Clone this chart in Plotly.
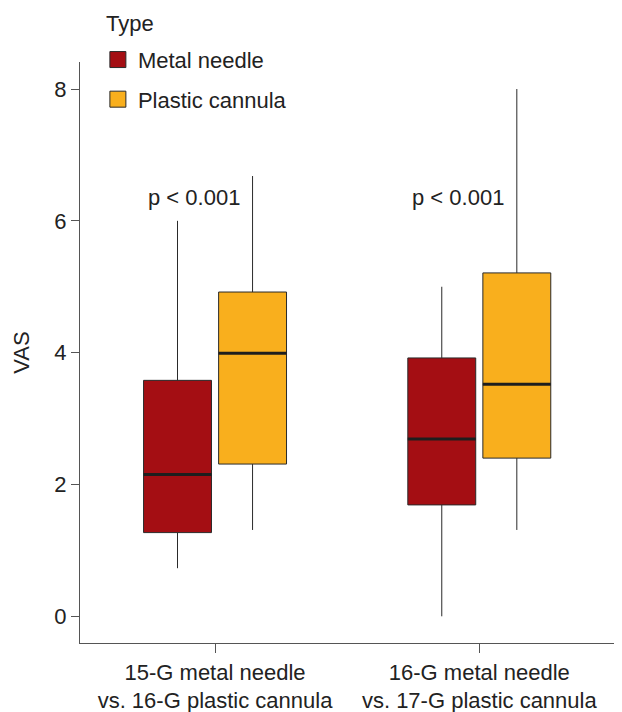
import plotly.graph_objects as go

# ---- data ----
groups = ["15-G metal needle<br>vs. 16-G plastic cannula",
          "16-G metal needle<br>vs. 17-G plastic cannula"]
types = ["Metal needle", "Plastic cannula"]

metal_low = [0.73, 0.0]
metal_q1 = [1.27, 1.69]
metal_med = [2.15, 2.69]
metal_q3 = [3.58, 3.92]
metal_high = [6.0, 5.0]

plastic_low = [1.31, 1.31]
plastic_q1 = [2.31, 2.40]
plastic_med = [3.99, 3.52]
plastic_q3 = [4.92, 5.21]
plastic_high = [6.68, 8.0]

p_labels = ["p < 0.001", "p < 0.001"]
y_ticks = [0, 2, 4, 6, 8]
legend_title = "Type"

# ---- styling / layout constants ----
FONT = "Liberation Sans, Arial, sans-serif"
TXT = "#222222"
AX = "#555555"
EDGE = "#2a2a2a"
colors = ["#A40E13", "#F9AF1D"]
OFFSET = 0.142
BOXW = 0.257

series = [
    (metal_low, metal_q1, metal_med, metal_q3, metal_high),
    (plastic_low, plastic_q1, plastic_med, plastic_q3, plastic_high),
]

fig = go.Figure()
idx = list(range(len(groups)))
for k, (lo, q1, med, q3, hi) in enumerate(series):
    sign = -1 if k == 0 else 1
    xs = [i + sign * OFFSET for i in idx]
    fig.add_trace(go.Box(
        name=types[k], x=xs, lowerfence=lo, q1=q1, median=med, q3=q3,
        upperfence=hi, width=BOXW, whiskerwidth=0,
        fillcolor=colors[k], line=dict(color=EDGE, width=1),
        boxpoints=False, showlegend=False, hoverinfo="skip",
    ))

# thicker median lines
for k, (lo, q1, med, q3, hi) in enumerate(series):
    sign = -1 if k == 0 else 1
    mx, my = [], []
    for i in idx:
        c = i + sign * OFFSET
        mx += [c - BOXW / 2, c + BOXW / 2, None]
        my += [med[i], med[i], None]
    fig.add_trace(go.Scatter(x=mx, y=my, mode="lines",
                             line=dict(color="#1e1e1e", width=3),
                             showlegend=False, hoverinfo="skip"))

# legend entries (box-like square symbols)
for k in range(len(types)):
    fig.add_trace(go.Scatter(
        x=[None], y=[None], mode="markers", name=types[k],
        legendgroup=types[k],
        marker=dict(symbol="square", size=18, color=colors[k],
                    line=dict(color=EDGE, width=1)),
        showlegend=True,
    ))

for i in idx:
    fig.add_annotation(x=i - 0.08, y=6.35, text=p_labels[i], showarrow=False,
                       font=dict(family=FONT, size=22, color=TXT),
                       xanchor="center", yanchor="middle")

fig.add_annotation(x=0.045, y=1.066, xref="paper", yref="paper",
                   text=legend_title, showarrow=False,
                   xanchor="left", yanchor="middle",
                   font=dict(family=FONT, size=22, color=TXT))

fig.update_layout(
    width=614, height=704, autosize=False,
    margin=dict(l=72, r=0, t=54, b=69),
    plot_bgcolor="white", paper_bgcolor="white",
    font=dict(family=FONT, size=22, color=TXT),
    boxmode="overlay",
    legend=dict(
        x=0.033, xanchor="left", y=1.040, yanchor="top",
        font=dict(family=FONT, size=22, color=TXT),
        bgcolor="rgba(0,0,0,0)", tracegroupgap=8,
    ),
    xaxis=dict(
        range=[-0.511, 1.540], tickmode="array", tickvals=idx, ticktext=groups,
        showline=True, linecolor=AX, linewidth=1.3, ticks="outside",
        ticklen=9, tickcolor=AX, tickwidth=1.3, showgrid=False, zeroline=False,
        tickfont=dict(family=FONT, size=22, color=TXT),
    ),
    yaxis=dict(
        range=[-0.405, 8.41], tickmode="array", tickvals=y_ticks,
        showline=True, linecolor=AX, linewidth=1.3, ticks="outside",
        ticklen=8, tickcolor=AX, tickwidth=1.3, showgrid=False, zeroline=False,
        tickfont=dict(family=FONT, size=22, color=TXT),
        title=dict(text="VAS", font=dict(family=FONT, size=22, color=TXT), standoff=18),
    ),
)

fig.write_html("out.html")
